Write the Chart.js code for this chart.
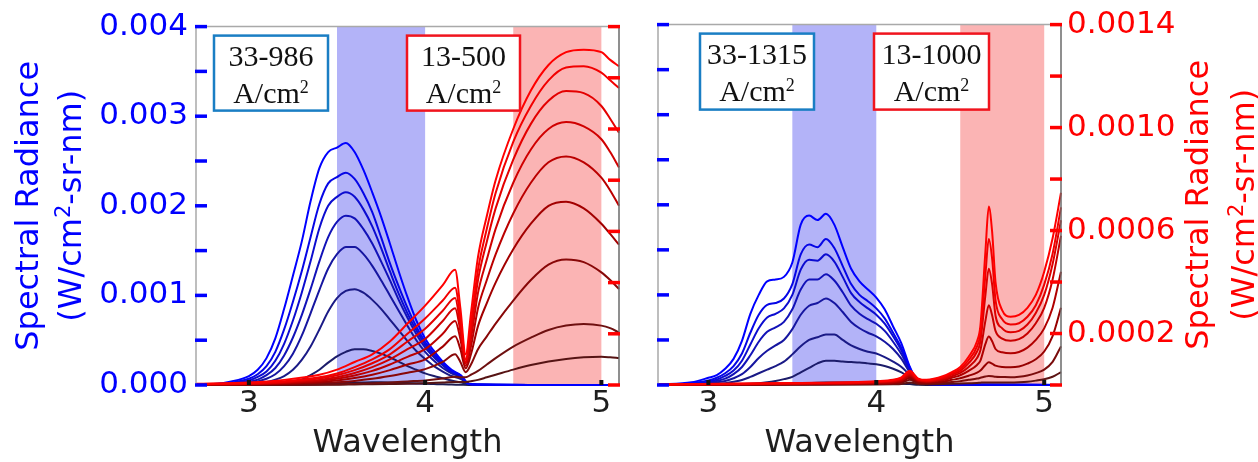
<!DOCTYPE html>
<html>
<head>
<meta charset="utf-8">
<title>Spectral radiance vs wavelength</title>
<script src="https://cdn.jsdelivr.net/npm/chart.js@4.4.1/dist/chart.umd.min.js"></script>
<style>
  html, body { margin: 0; padding: 0; background: #ffffff; }
  #figure { position: relative; width: 1258px; height: 462px; overflow: hidden; }
  #figure canvas { position: absolute; top: 0; }
  #leftPanel { left: 0; }
  #rightPanel { left: 630px; }
</style>
</head>
<body>
<div id="figure">
  <canvas id="leftPanel" width="630" height="462"></canvas>
  <canvas id="rightPanel" width="628" height="462"></canvas>
</div>
<script>
// ---------- axis ticks ----------
const WAVELENGTH_TICKS = [3, 4, 5];
const BLUE_AXIS_LABELS = [0, 0.001, 0.002, 0.003, 0.004];
const BLUE_AXIS_MARKS = [0, 0.0005, 0.001, 0.0015, 0.002, 0.0025, 0.003, 0.0035, 0.004];
const RED_AXIS_LABELS = [0.0002, 0.0006, 0.0010, 0.0014];
const RED_AXIS_MARKS = [0, 0.0002, 0.0004, 0.0006, 0.0008, 0.0010, 0.0012, 0.0014];

// ---------- filter pass bands (wavelength) ----------
const BLUE_BAND = [3.5, 4.0];
const RED_BAND = [4.5, 5.0];

// ---------- current ranges (A/cm2) ----------
const LEFT_BLUE_RANGE = '33-986';
const LEFT_RED_RANGE = '13-500';
const RIGHT_BLUE_RANGE = '33-1315';
const RIGHT_RED_RANGE = '13-1000';

// ---------- left panel: blue emitter (W/cm2-sr-nm) ----------
const L_BLUE_WL = [2.70,2.80,2.90,3.00,3.05,3.10,3.15,3.20,3.25,3.30,3.35,3.40,3.45,3.50,3.55,3.60,3.65,3.70,3.75,3.80,3.85,3.90,3.95,4.00,4.05,4.10,4.15,4.20,4.25,4.30,4.60,5.10];
const L_BLUE_1 = [0.000005,0.00001,0.00004,0.0001,0.00017,0.0003,0.00052,0.00085,0.00122,0.0016,0.00205,0.00242,0.0026,0.00265,0.0027,0.0026,0.0024,0.00215,0.00188,0.00158,0.00127,0.00098,0.00072,0.00052,0.00038,0.00026,0.00017,0.00011,0.00001,0.000005,0,0];
const L_BLUE_2 = [0.000003,0.000008,0.000025,0.00007,0.00012,0.00021,0.00037,0.00062,0.00093,0.00127,0.00165,0.00202,0.00225,0.00232,0.00237,0.0023,0.00214,0.00193,0.00165,0.00136,0.0011,0.00086,0.00065,0.00048,0.00035,0.00025,0.00016,0.00011,0.00001,0.000005,0,0];
const L_BLUE_3 = [0.000002,0.000005,0.000018,0.00005,0.00009,0.00015,0.00027,0.00046,0.00072,0.00103,0.00138,0.00175,0.002,0.0021,0.00215,0.0021,0.00196,0.00177,0.00153,0.00127,0.00102,0.0008,0.00061,0.00045,0.00033,0.00023,0.00015,0.0001,0.00001,0.000004,0,0];
const L_BLUE_4 = [0.000001,0.000003,0.000012,0.000035,0.00006,0.00011,0.00019,0.00033,0.00053,0.00078,0.00107,0.00138,0.00165,0.00182,0.00189,0.00186,0.00174,0.00158,0.00138,0.00117,0.00095,0.00075,0.00057,0.00042,0.00031,0.00022,0.00014,0.0001,0.00001,0.000004,0,0];
const L_BLUE_5 = [0.000001,0.000002,0.000008,0.000022,0.00004,0.00007,0.00012,0.00021,0.00035,0.00055,0.0008,0.00106,0.0013,0.00146,0.00154,0.00154,0.00146,0.00133,0.00117,0.001,0.00083,0.00066,0.0005,0.00037,0.00027,0.00019,0.00013,0.00009,0.00001,0.000003,0,0];
const L_BLUE_6 = [0,0.000001,0.000004,0.00001,0.00002,0.000035,0.00006,0.0001,0.00017,0.00028,0.00043,0.00062,0.00082,0.00097,0.00105,0.00107,0.00103,0.00095,0.00085,0.00073,0.00061,0.00049,0.00038,0.00029,0.00021,0.00015,0.0001,0.00007,0.00001,0.000002,0,0];
const L_BLUE_7 = [0,0,0.000001,0.000002,0.000004,0.000007,0.000012,0.00002,0.000035,0.00006,0.00011,0.00017,0.00025,0.00032,0.00037,0.0004,0.0004,0.00038,0.00035,0.00031,0.00026,0.00021,0.00017,0.00013,0.0001,0.000075,0.00005,0.00003,0.000005,0.000001,0,0];
const L_BLUE_8 = [0,0,0,0,0,0,0.000001,0.000001,0.000002,0.000003,0.000005,0.000008,0.000012,0.000016,0.000021,0.000025,0.000028,0.00003,0.00003,0.000028,0.000025,0.000021,0.000017,0.000013,0.00001,0.000007,0.000005,0.000003,0.000001,0,0,0];

// ---------- left panel: red emitter (W/cm2-sr-nm) ----------
const L_RED_WL = [2.70,3.00,3.20,3.40,3.50,3.60,3.70,3.80,3.90,4.00,4.10,4.17,4.20,4.23,4.26,4.30,4.35,4.40,4.50,4.60,4.70,4.80,4.90,5.00,5.05,5.10];
const L_RED_1 = [0.000005,0.00001,0.00002,0.00004,0.00006,0.00009,0.00012,0.00017,0.00024,0.00031,0.00039,0.00045,0.0003,0.00012,0.00028,0.0005,0.00066,0.0008,0.001,0.00115,0.00125,0.0013,0.00131,0.0013,0.00127,0.001245];
const L_RED_2 = [0.000004,0.000008,0.000015,0.00003,0.000045,0.00007,0.0001,0.00014,0.0002,0.00026,0.00033,0.00038,0.00026,0.0001,0.00024,0.00045,0.00061,0.00075,0.00095,0.00109,0.00119,0.00124,0.001245,0.00122,0.00119,0.00116];
const L_RED_3 = [0.000003,0.000006,0.000012,0.000025,0.000038,0.000058,0.000085,0.00012,0.00017,0.00022,0.00029,0.00034,0.00023,0.00009,0.00021,0.00041,0.00056,0.00069,0.00088,0.00102,0.00111,0.001148,0.00114,0.00109,0.00104,0.000985];
const L_RED_4 = [0.000002,0.000005,0.00001,0.00002,0.00003,0.000047,0.00007,0.0001,0.00014,0.00018,0.00025,0.0003,0.00021,0.000085,0.00018,0.00036,0.00049,0.00061,0.00079,0.00092,0.001,0.001027,0.00101,0.00096,0.00091,0.00085];
const L_RED_5 = [0.000002,0.000004,0.000008,0.000016,0.000024,0.000037,0.000055,0.00008,0.00011,0.00014,0.0002,0.00025,0.00018,0.000075,0.00015,0.0003,0.00041,0.00051,0.00067,0.00079,0.00087,0.000893,0.00087,0.00081,0.00076,0.0007];
const L_RED_6 = [0.000001,0.000003,0.000006,0.000012,0.000018,0.000027,0.00004,0.000058,0.00008,0.0001,0.00015,0.00019,0.00014,0.000065,0.00012,0.00023,0.00032,0.0004,0.00053,0.00063,0.0007,0.000716,0.00069,0.00063,0.00059,0.000548];
const L_RED_7 = [0.000001,0.000002,0.000004,0.000008,0.000011,0.000016,0.000024,0.000035,0.000048,0.000062,0.00009,0.00012,0.00009,0.00005,0.00008,0.00014,0.00019,0.00024,0.00033,0.00041,0.00047,0.00049,0.00048,0.00044,0.00041,0.000375];
const L_RED_8 = [0,0,0.000001,0.000002,0.000003,0.000005,0.000007,0.00001,0.000014,0.000018,0.000025,0.000032,0.00003,0.00003,0.00004,0.000055,0.00008,0.000105,0.00015,0.000185,0.000215,0.000232,0.000238,0.000232,0.000222,0.000205];
const L_RED_9 = [0,0,0,0.000001,0.000001,0.000002,0.000003,0.000004,0.000005,0.000007,0.00001,0.000012,0.000012,0.000012,0.000015,0.00002,0.00003,0.00004,0.00006,0.000078,0.000092,0.000102,0.000108,0.00011,0.000108,0.000105];

// ---------- right panel: blue emitter (W/cm2-sr-nm) ----------
const R_BLUE_WL = [2.70,2.90,3.00,3.05,3.10,3.15,3.20,3.25,3.30,3.35,3.40,3.45,3.50,3.55,3.60,3.65,3.70,3.75,3.80,3.85,3.90,3.95,4.00,4.05,4.10,4.15,4.20,4.25,4.30,4.60,5.10];
const R_BLUE_1 = [0.000005,0.00003,0.00008,0.00011,0.00018,0.00029,0.00049,0.00079,0.001,0.00115,0.00117,0.0012,0.00136,0.00178,0.00188,0.00183,0.0019,0.00178,0.00153,0.00129,0.00115,0.00106,0.00097,0.00084,0.00065,0.00046,0.0002,0.00003,0.00001,0.000005,0];
const R_BLUE_2 = [0.000004,0.00002,0.00005,0.00008,0.00013,0.00021,0.00035,0.00058,0.00078,0.00089,0.00091,0.00096,0.00112,0.00145,0.00156,0.00153,0.00162,0.00152,0.00132,0.00112,0.001,0.00093,0.00085,0.00074,0.00058,0.00041,0.00019,0.00003,0.00001,0.000004,0];
const R_BLUE_3 = [0.000003,0.000015,0.00004,0.00006,0.0001,0.00016,0.00027,0.00045,0.00063,0.00075,0.00079,0.00085,0.001,0.00128,0.00139,0.00138,0.00145,0.00137,0.0012,0.00102,0.00092,0.00085,0.00078,0.00068,0.00054,0.00038,0.00018,0.00003,0.00001,0.000003,0];
const R_BLUE_4 = [0.000002,0.00001,0.00003,0.000045,0.00007,0.00012,0.0002,0.00033,0.00048,0.00059,0.00064,0.0007,0.00084,0.00106,0.00117,0.00117,0.00123,0.00116,0.00103,0.00088,0.00079,0.00073,0.00068,0.0006,0.00048,0.00034,0.00016,0.00003,0.00001,0.000002,0];
const R_BLUE_5 = [0.000001,0.000006,0.000018,0.00003,0.000045,0.000075,0.00012,0.0002,0.0003,0.00038,0.00044,0.0005,0.00062,0.00078,0.00088,0.00091,0.00096,0.00091,0.00081,0.0007,0.00063,0.00058,0.00054,0.00048,0.0004,0.00029,0.00014,0.00003,0.00001,0.000001,0];
const R_BLUE_6 = [0,0.000003,0.000008,0.000012,0.00002,0.000035,0.000055,0.00009,0.00013,0.00017,0.00021,0.00026,0.00034,0.00043,0.0005,0.00053,0.00056,0.00056,0.0005,0.00044,0.0004,0.00037,0.00035,0.00031,0.00026,0.0002,0.00011,0.00003,0.00001,0,0];
const R_BLUE_7 = [0,0.000001,0.000003,0.000004,0.000006,0.000008,0.000011,0.000014,0.00002,0.00003,0.000045,0.000065,0.00009,0.00014,0.00019,0.00024,0.00027,0.00027,0.00026,0.000255,0.00025,0.00024,0.00023,0.00021,0.00018,0.00014,0.00008,0.00002,0.00001,0,0];
const R_BLUE_8 = [0,0,0.000001,0.000001,0.000001,0.000002,0.000002,0.000003,0.000004,0.000005,0.000007,0.000009,0.000012,0.000016,0.00002,0.000024,0.000027,0.000028,0.000028,0.000027,0.000026,0.000025,0.000024,0.000022,0.000019,0.000015,0.00001,0.000003,0.000001,0,0];

// ---------- right panel: red emitter (W/cm2-sr-nm) ----------
const R_RED_WL = [2.70,3.50,4.00,4.10,4.15,4.20,4.25,4.30,4.40,4.45,4.50,4.55,4.60,4.62,4.65,4.67,4.69,4.71,4.75,4.80,4.85,4.90,4.95,5.00,5.05,5.10];
const R_RED_1 = [0.000002,0.000008,0.000015,0.00002,0.00003,0.000055,0.000025,0.00002,0.000035,0.00005,0.00007,0.00011,0.00017,0.00023,0.00052,0.000693,0.000594,0.0004,0.00029,0.000265,0.000272,0.0003,0.00035,0.00044,0.00057,0.000747];
const R_RED_2 = [0.000002,0.000007,0.000013,0.000018,0.000027,0.00005,0.000022,0.000018,0.000031,0.000045,0.000062,0.000097,0.00015,0.0002,0.00043,0.000567,0.00049,0.00033,0.000255,0.000235,0.00024,0.000265,0.00031,0.00039,0.00051,0.00069];
const R_RED_3 = [0.000002,0.000006,0.000012,0.000016,0.000024,0.000045,0.00002,0.000016,0.000027,0.00004,0.000055,0.000085,0.00013,0.00017,0.00035,0.000452,0.00039,0.00027,0.00022,0.000205,0.00021,0.000235,0.00028,0.00035,0.00047,0.00064];
const R_RED_4 = [0.000001,0.000005,0.00001,0.000014,0.00002,0.00004,0.000018,0.000014,0.000023,0.000034,0.000047,0.00007,0.000105,0.000135,0.00025,0.00031,0.00027,0.00021,0.00018,0.000172,0.000178,0.0002,0.00024,0.0003,0.00041,0.00058];
const R_RED_5 = [0.000001,0.000004,0.000008,0.000011,0.000016,0.000035,0.000015,0.000012,0.000019,0.000028,0.000038,0.000055,0.000078,0.000095,0.00016,0.000188,0.00017,0.00014,0.000127,0.000123,0.000128,0.000145,0.000175,0.00022,0.0003,0.00044];
const R_RED_6 = [0.000001,0.000003,0.000006,0.000008,0.000012,0.000028,0.000011,0.000009,0.000014,0.00002,0.000026,0.000036,0.000048,0.000056,0.000078,0.000088,0.000083,0.000075,0.00007,0.000069,0.000072,0.000083,0.0001,0.00013,0.00019,0.0003];
const R_RED_7 = [0,0.000002,0.000004,0.000005,0.000008,0.00002,0.000007,0.000006,0.000009,0.000012,0.000015,0.00002,0.000025,0.000028,0.000033,0.000035,0.000034,0.000032,0.000031,0.00003,0.000032,0.000037,0.000046,0.00006,0.00009,0.00015];
const R_RED_8 = [0,0.000001,0.000002,0.000003,0.000004,0.00001,0.000004,0.000003,0.000004,0.000005,0.000006,0.000007,0.000008,0.000009,0.00001,0.00001,0.00001,0.00001,0.00001,0.00001,0.000011,0.000013,0.000017,0.000022,0.000032,0.00005];

// ---------- styles ----------
const SANS = '"DejaVu Sans", sans-serif';
const SERIF = '"Liberation Serif", "Times New Roman", serif';
const BLUE = '#0000ff';
const RED = '#ff0000';
const INK = '#1e1e1e';
const BLUE_SHADES = ['#0000ff', '#0606e6', '#0c0cd0', '#1212b8', '#1616a0', '#1a1a86', '#1c1c6a', '#1c1c50'];
const RED_SHADES_LEFT = ['#ff0000', '#f20000', '#e40000', '#d00000', '#bb0000', '#a20000', '#880808', '#6e1010', '#561414'];
const RED_SHADES_RIGHT = ['#ff0000', '#ef0000', '#de0000', '#c80000', '#b00000', '#960000', '#7a0c0c', '#5c1414'];
const BLUE_BAND_FILL = 'rgb(179,179,248)';
const RED_BAND_FILL = 'rgb(251,180,180)';

function line(wl, vals, color, axis) {
  return {
    data: wl.map((w, i) => ({ x: w, y: vals[i] })),
    borderColor: color,
    borderWidth: 2,
    pointRadius: 0,
    fill: false,
    cubicInterpolationMode: 'monotone',
    yAxisID: axis,
    clip: { left: 0, top: 0, right: 1, bottom: 3 }
  };
}

// text with optional superscript pieces: parts = [[text, isSup], ...]
function richWidth(ctx, parts, f) {
  let w = 0;
  parts.forEach(([t, sup]) => { ctx.font = sup ? f.sup : f.main; w += ctx.measureText(t).width; });
  return w;
}
function drawRich(ctx, parts, f, cx, baseline) {
  ctx.textAlign = 'left';
  ctx.textBaseline = 'alphabetic';
  let u = cx - richWidth(ctx, parts, f) / 2;
  parts.forEach(([t, sup]) => {
    ctx.font = sup ? f.sup : f.main;
    ctx.fillText(t, u, baseline - (sup ? f.rise : 0));
    u += ctx.measureText(t).width;
  });
}

const BOX_FONT = { main: `30px ${SERIF}`, sup: `18px ${SERIF}`, rise: 10 };
const TITLE_FONT = { main: `32px ${SANS}`, sup: `21px ${SANS}`, rise: 11 };

function drawBox(ctx, x, y, w, h, color, range) {
  ctx.fillStyle = '#ffffff';
  ctx.fillRect(x, y, w, h);
  ctx.lineWidth = 2.5;
  ctx.strokeStyle = color;
  ctx.strokeRect(x, y, w, h);
  ctx.fillStyle = '#111111';
  drawRich(ctx, [[range, false]], BOX_FONT, x + w / 2, y + 30);
  drawRich(ctx, [['A/cm', false], ['2', true]], BOX_FONT, x + w / 2, y + 67);
}

const decor = {
  id: 'decor',
  beforeDatasetsDraw(chart) {
    const { ctx, chartArea: a, scales: { x } } = chart;
    ctx.save();
    [[BLUE_BAND, BLUE_BAND_FILL], [RED_BAND, RED_BAND_FILL]].forEach(([band, fill]) => {
      const x0 = x.getPixelForValue(band[0]);
      const x1 = x.getPixelForValue(band[1]);
      ctx.fillStyle = fill;
      ctx.fillRect(x0, a.top, x1 - x0, a.bottom - a.top);
    });
    ctx.restore();
  },
  afterDatasetsDraw(chart, args, opts) {
    const { ctx, chartArea: a, scales: { x, yB, yR } } = chart;
    ctx.save();
    // frame
    ctx.lineWidth = 1.5;
    ctx.strokeStyle = '#a9a9a9';
    ctx.beginPath();
    ctx.moveTo(a.left, a.bottom); ctx.lineTo(a.left, a.top); ctx.lineTo(a.right, a.top);
    ctx.stroke();
    ctx.strokeStyle = '#6a6a6a';
    ctx.beginPath();
    ctx.moveTo(a.right, a.top); ctx.lineTo(a.right, a.bottom);
    ctx.stroke();
    // inward tick marks
    ctx.fillStyle = BLUE;
    BLUE_AXIS_MARKS.forEach(v => { const y = yB.getPixelForValue(v); ctx.fillRect(a.left - 1, y - 1.75, 12, 3.5); });
    ctx.fillStyle = RED;
    RED_AXIS_MARKS.forEach(v => { const y = yR.getPixelForValue(v); ctx.fillRect(a.right - 11, y - 1.75, 12, 3.5); });
    ctx.fillStyle = '#111111';
    WAVELENGTH_TICKS.forEach(v => { const px = x.getPixelForValue(v); ctx.fillRect(px - 2, a.bottom - 5, 4, 5); });
    // current-range boxes
    opts.boxes.forEach(b => drawBox(ctx, a.left + b.dx, a.top + b.dy, b.w, b.h, b.color, b.range));
    // x title
    ctx.font = `32px ${SANS}`;
    ctx.fillStyle = INK;
    ctx.textAlign = 'center';
    ctx.textBaseline = 'alphabetic';
    ctx.fillText('Wavelength', (a.left + a.right) / 2, a.bottom + 67);
    // y title (two lines, reading bottom to top)
    const t = opts.title;
    const cy = (a.top + a.bottom) / 2;
    const lines = [[['Spectral Radiance', false]], [['(W/cm', false], ['2', true], ['-sr-nm)', false]]];
    ctx.fillStyle = t.color;
    lines.forEach((parts, i) => {
      const bx = t.side === 'left' ? a.left - t.offsets[i] : a.right + t.offsets[i];
      ctx.save();
      ctx.translate(bx, cy);
      ctx.rotate(-Math.PI / 2);
      drawRich(ctx, parts, TITLE_FONT, 0, 0);
      ctx.restore();
    });
    ctx.restore();
  }
};

function scalesFor(labelsOnLeft) {
  return {
    x: {
      type: 'linear', position: 'bottom', min: 2.7, max: 5.1,
      afterBuildTicks: s => { s.ticks = WAVELENGTH_TICKS.map(v => ({ value: v })); },
      afterFit: s => { s.height = 77; },
      grid: { display: false, drawTicks: false },
      border: { display: false },
      ticks: { color: INK, padding: 0, maxRotation: 0, autoSkip: false,
               font: { family: 'DejaVu Sans', size: 31 }, callback: v => String(v) }
    },
    yB: {
      type: 'linear', position: 'left', min: 0, max: 0.004,
      afterBuildTicks: s => { s.ticks = BLUE_AXIS_LABELS.map(v => ({ value: v })); },
      afterFit: s => { s.width = labelsOnLeft ? 196 : 28; },
      grid: { display: false, drawTicks: false },
      border: { display: false },
      ticks: { display: labelsOnLeft, color: BLUE, padding: 8,
               font: { family: 'DejaVu Sans', size: 31 }, callback: v => Number(v).toFixed(3) }
    },
    yR: {
      type: 'linear', position: 'right', min: 0, max: 0.0014,
      afterBuildTicks: s => { s.ticks = RED_AXIS_LABELS.map(v => ({ value: v })); },
      afterFit: s => { s.width = labelsOnLeft ? 11 : 197; },
      grid: { display: false, drawTicks: false },
      border: { display: false },
      ticks: { display: !labelsOnLeft, color: RED, padding: 6,
               font: { family: 'DejaVu Sans', size: 31 }, callback: v => Number(v).toFixed(4) }
    }
  };
}

function baseOptions(labelsOnLeft, decorOpts) {
  return {
    responsive: false,
    animation: false,
    events: [],
    devicePixelRatio: 1,
    layout: { padding: { top: 19, left: 0, right: 0, bottom: 0 } },
    scales: scalesFor(labelsOnLeft),
    plugins: { legend: { display: false }, tooltip: { enabled: false }, decor: decorOpts }
  };
}

// red traces listed first so they are painted over the blue ones
const leftDatasets = [
  ...[L_RED_1, L_RED_2, L_RED_3, L_RED_4, L_RED_5, L_RED_6, L_RED_7, L_RED_8, L_RED_9]
      .map((v, i) => line(L_RED_WL, v, RED_SHADES_LEFT[i], 'yR')),
  ...[L_BLUE_1, L_BLUE_2, L_BLUE_3, L_BLUE_4, L_BLUE_5, L_BLUE_6, L_BLUE_7, L_BLUE_8]
      .map((v, i) => line(L_BLUE_WL, v, BLUE_SHADES[i], 'yB'))
];
const rightDatasets = [
  ...[R_RED_1, R_RED_2, R_RED_3, R_RED_4, R_RED_5, R_RED_6, R_RED_7, R_RED_8]
      .map((v, i) => line(R_RED_WL, v, RED_SHADES_RIGHT[i], 'yR')),
  ...[R_BLUE_1, R_BLUE_2, R_BLUE_3, R_BLUE_4, R_BLUE_5, R_BLUE_6, R_BLUE_7, R_BLUE_8]
      .map((v, i) => line(R_BLUE_WL, v, BLUE_SHADES[i], 'yB'))
];

const BOX_BLUE = '#1a7ec4';
const BOX_RED = '#f0141e';

new Chart(document.getElementById('leftPanel'), {
  type: 'line',
  data: { datasets: leftDatasets },
  options: baseOptions(true, {
    boxes: [
      { dx: 18, dy: 9, w: 114, h: 75, color: BOX_BLUE, range: LEFT_BLUE_RANGE },
      { dx: 211, dy: 9, w: 113, h: 75, color: BOX_RED, range: LEFT_RED_RANGE }
    ],
    title: { side: 'left', color: BLUE, offsets: [158, 115] }
  }),
  plugins: [decor]
});

new Chart(document.getElementById('rightPanel'), {
  type: 'line',
  data: { datasets: rightDatasets },
  options: baseOptions(false, {
    boxes: [
      { dx: 42, dy: 9, w: 114, h: 76, color: BOX_BLUE, range: RIGHT_BLUE_RANGE },
      { dx: 216, dy: 9, w: 115, h: 76, color: BOX_RED, range: RIGHT_RED_RANGE }
    ],
    title: { side: 'right', color: RED, offsets: [147, 193] }
  }),
  plugins: [decor]
});
</script>
</body>
</html>
